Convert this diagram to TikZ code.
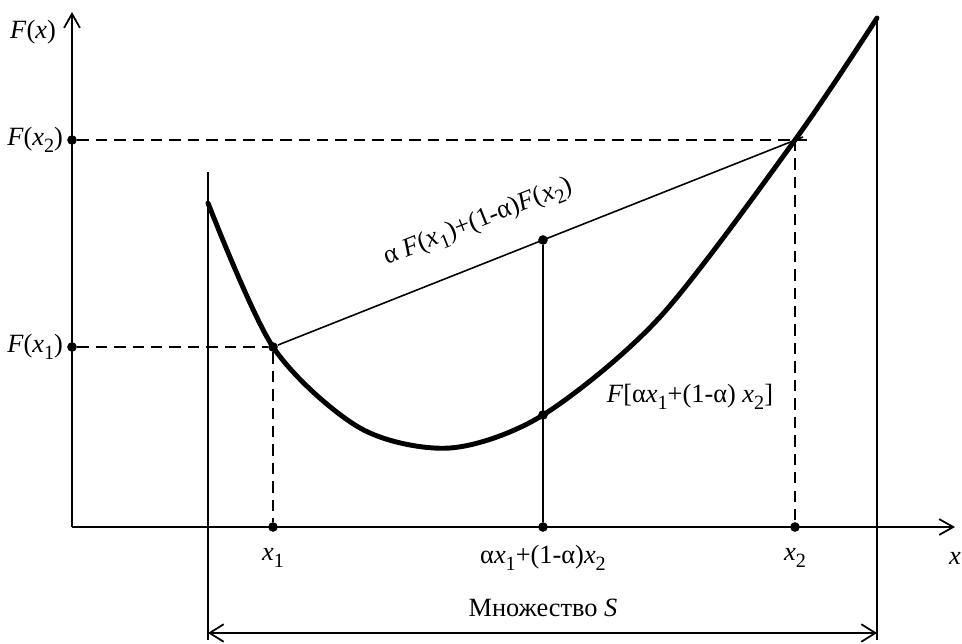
\documentclass[tikz,border=0pt]{standalone}
\usepackage{fontspec}
\setmainfont{Liberation Serif}
\usetikzlibrary{arrows.meta}
\newcommand{\lowidx}[1]{\raisebox{-0.55ex}{\fontsize{11.5}{12}\selectfont #1}}
\newcommand{\xsub}[1]{\textit{x}\lowidx{#1}}
\begin{document}
\begin{tikzpicture}[x=0.02cm, y=0.02cm, font=\fontsize{15}{17}\selectfont,
  axis/.style={line width=1pt},
  tip/.style={-{Straight Barb[length=8pt, width=9pt, line width=1pt]}},
  both/.style={{Straight Barb[length=8pt, width=10pt, line width=1pt]}-{Straight Barb[length=8pt, width=10pt, line width=1pt]}},
  func/.style={line width=2.8pt, line join=round, line cap=round},
  guide/.style={line width=1.5pt, dash pattern=on 6.5pt off 4pt},
  dot/.style={circle, fill=black, inner sep=0pt, minimum size=5.5pt}]
  \useasboundingbox (0,0) rectangle (962,643);
  % оси
  \coordinate (O) at (72,116);
  \coordinate (ytop) at (72,631);
  \coordinate (xend) at (955,116);
  \draw[axis, tip] (O) -- (ytop);
  \draw[axis, tip] (O) -- (xend);
  % границы множества S
  \coordinate (SlT) at (208,471);
  \coordinate (SlB) at (208,3);
  \coordinate (SrT) at (877,625);
  \coordinate (SrB) at (877,3);
  \coordinate (SlA) at (208,10);
  \coordinate (SrA) at (877,10);
  \draw[axis] (SlT) -- (SlB);
  \draw[axis] (SrT) -- (SrB);
  \draw[axis, both] (SlA) -- (SrA);
  % функция F(x)
  \draw[func] plot[smooth] coordinates {(208,440) (273,296) (360,215) (450,195) (543,228) (660,326) (795,503) (877,625)};
  % точки
  \node[dot] (P2) at (72,503) {};
  \node[dot] (P1) at (72,296) {};
  \node[dot] (A) at (273,296) {};
  \coordinate (B) at (795,503);
  \coordinate (Bd) at (807,503);
  \coordinate (Bc) at (803,506);
  \node[dot] (X1) at (273,116) {};
  \node[dot] (X2) at (795,116) {};
  \node[dot] (M) at (543,116) {};
  \node[dot] (C) at (543,403) {};
  \node[dot] (D) at (543,228) {};
  % пунктир
  \draw[guide] (P2) -- (Bd);
  \draw[guide] (B) -- (X2);
  \draw[guide] (P1) -- (A);
  \draw[guide] (A) -- (X1);
  % хорда и отрезок
  \draw[line width=0.9pt] (A) -- (Bc) node[pos=0.41, sloped, above=0.42cm] (lchord) {α \textit{F}(\xsub{1})+(1-α)\textit{F}(\xsub{2})};
  \draw[line width=0.9pt] (M) -- (C);
  % подписи
  \node (lFx) at (33,611) {\textit{F}(\textit{x})};
  \node[left, inner sep=2pt] (lF2) at (P2.west) {\textit{F}(\xsub{2})};
  \node[left, inner sep=2pt] (lF1) at (P1.west) {\textit{F}(\xsub{1})};
  \node (lx1) at (273,85) {\xsub{1}};
  \node (lmid) at (543,85) {α\xsub{1}+(1-α)\xsub{2}};
  \node (lx2) at (795,85) {\xsub{2}};
  \node (lx) at (955,85) {\textit{x}};
  \node (lFm) at (690,246) {\textit{F}[α\xsub{1}+(1-α) \xsub{2}]};
  \node (lS) at (543,35) {Множество \textit{S}};
\end{tikzpicture}
\end{document}
